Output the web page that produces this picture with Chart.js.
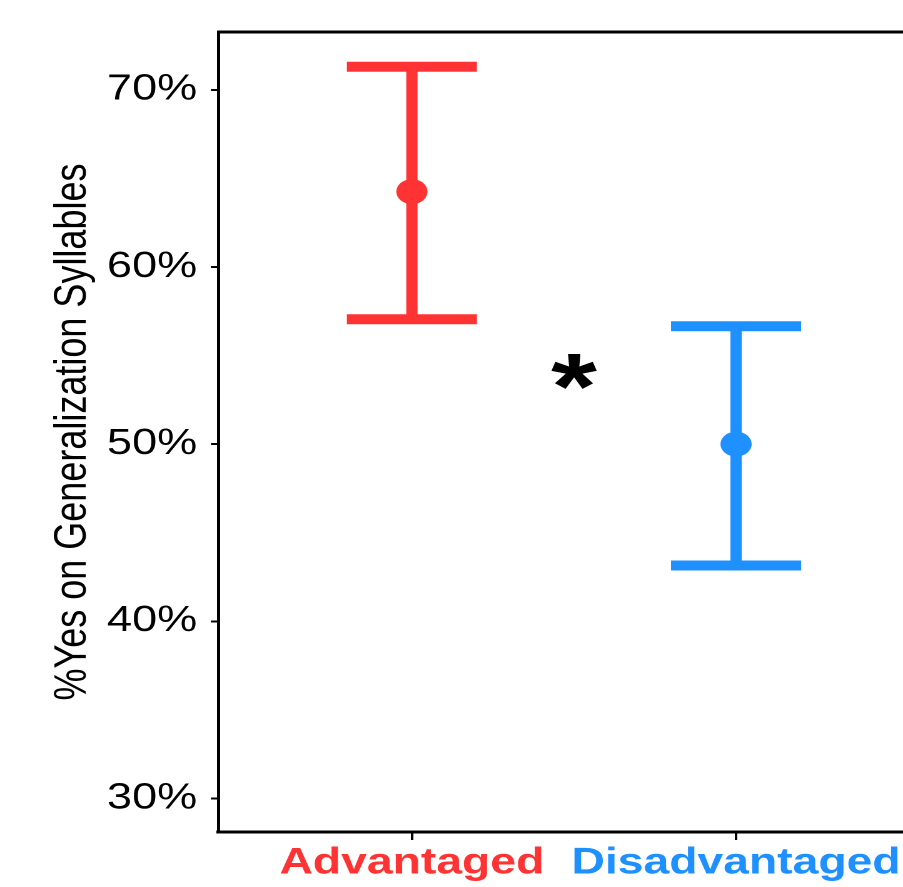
<!DOCTYPE html>
<html>
<head>
<meta charset="utf-8">
<script src="https://cdn.jsdelivr.net/npm/chart.js@4.4.1/dist/chart.umd.min.js"></script>
<style>
html, body { margin: 0; padding: 0; background: #fff; overflow: hidden; }
#chart { display: block; }
</style>
</head>
<body>
<canvas id="chart" width="722" height="887" style="width:903px;height:887px"></canvas>
<script>
// groups on the x axis
var groups = ['Advantaged', 'Disadvantaged'];
var groupX = [1, 2];
var groupColors = ['#FF3333', '#1E90FF'];
// % yes on generalization syllables: mean and error bar ends
var means = [64.25, 50.0];
var lower = [57.05, 43.15];
var upper = [71.3, 56.65];
var yTicks = [30, 40, 50, 60, 70];
// significance mark between the groups
var starX = [1.5];
var starY = [54.1];
var starText = ['*'];

var FONT = '"Liberation Sans", Arial, Helvetica, sans-serif';

var datasets = [];
// means (first = drawn on top)
groups.forEach(function (g, i) {
    datasets.push({
        label: g + ' mean',
        data: [{x: groupX[i], y: means[i]}],
        pointStyle: 'circle',
        pointRadius: 12.5,
        backgroundColor: groupColors[i],
        borderWidth: 0
    });
});
// stems
groups.forEach(function (g, i) {
    datasets.push({
        label: g + ' stem',
        data: [{x: groupX[i], y: lower[i]}, {x: groupX[i], y: upper[i]}],
        showLine: true,
        borderColor: groupColors[i],
        borderWidth: 9,
        pointRadius: 0
    });
});
// caps
groups.forEach(function (g, i) {
    datasets.push({
        label: g + ' caps',
        data: [{x: groupX[i], y: lower[i]}, {x: groupX[i], y: upper[i]}],
        pointStyle: 'line',
        pointRadius: 52,
        pointBorderWidth: 10,
        pointBorderColor: groupColors[i],
        borderColor: groupColors[i]
    });
});

// top frame line
var topFrame = {
    id: 'topFrame',
    afterDraw: function (chart) {
        var a = chart.chartArea, ctx = chart.ctx;
        ctx.save();
        ctx.strokeStyle = '#000';
        ctx.lineWidth = 3;
        ctx.beginPath();
        ctx.moveTo(a.left - 1, a.top);
        ctx.lineTo(a.right, a.top);
        ctx.stroke();
        ctx.restore();
    }
};

// star label
var stars = {
    id: 'stars',
    afterDatasetsDraw: function (chart) {
        var ctx = chart.ctx, x = chart.scales.x, y = chart.scales.y;
        ctx.save();
        ctx.font = 'bold 94px ' + FONT;
        ctx.fillStyle = '#000';
        ctx.textAlign = 'center';
        ctx.textBaseline = 'alphabetic';
        starText.forEach(function (t, i) {
            var m = ctx.measureText(t);
            var px = x.getPixelForValue(starX[i]);
            var py = y.getPixelForValue(starY[i]);
            ctx.fillText(t, px, py + (m.actualBoundingBoxAscent - m.actualBoundingBoxDescent) / 2);
        });
        ctx.restore();
    }
};

function noPad(s) {
    s.paddingLeft = 0; s.paddingRight = 0; s.paddingTop = 0; s.paddingBottom = 0;
}

var ctx = document.getElementById('chart');
var chart = new Chart(ctx, {
    type: 'scatter',
    data: { datasets: datasets },
    plugins: [topFrame, stars],
    options: {
        responsive: false,
        devicePixelRatio: 2,
        animation: false,
        layout: { autoPadding: false, padding: { top: 32, left: 0, right: 0, bottom: 0 } },
        plugins: { legend: { display: false }, tooltip: { enabled: false } },
        scales: {
            x: {
                type: 'linear',
                min: 0.403,
                max: 2.515,
                afterBuildTicks: function (s) { s.ticks = groupX.map(function (v) { return {value: v}; }); },
                afterFit: function (s) { s.height = 55; noPad(s); },
                grid: { drawOnChartArea: false, drawTicks: true, tickLength: 8, tickWidth: 2, color: '#000', tickColor: '#000' },
                border: { display: true, color: '#000', width: 3 },
                ticks: {
                    callback: function (v, i) { return groups[i]; },
                    color: function (c) { return groupColors[c.index]; },
                    font: { family: FONT, size: 37, weight: 'bold' },
                    padding: 1,
                    maxRotation: 0,
                    autoSkip: false
                }
            },
            y: {
                min: 28.11,
                max: 73.26,
                afterBuildTicks: function (s) { s.ticks = yTicks.map(function (v) { return {value: v}; }); },
                afterFit: function (s) { s.width = 174.6; noPad(s); },
                grid: { drawOnChartArea: false, drawTicks: true, tickLength: 6, tickWidth: 2, color: '#000', tickColor: '#000' },
                border: { display: true, color: '#000', width: 2.5 },
                ticks: {
                    callback: function (v) { return v + '%'; },
                    color: '#000',
                    font: { family: FONT, size: 36 },
                    padding: 11
                },
                title: {
                    display: true,
                    text: '%Yes on Generalization Syllables',
                    color: '#000',
                    font: { family: FONT, size: 36 },
                    padding: { top: 37, bottom: 0 }
                }
            }
        }
    }
});
</script>
</body>
</html>
